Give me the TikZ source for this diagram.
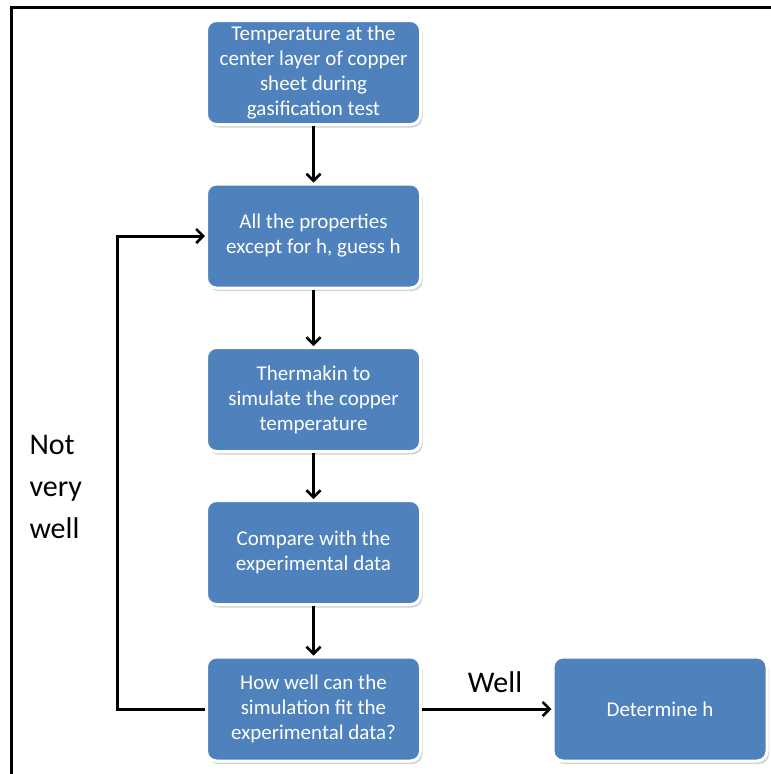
\documentclass[tikz,border=0pt]{standalone}
\usepackage{fontspec}
\setmainfont{Carlito}
\usetikzlibrary{shadows,arrows.meta}
\definecolor{boxblue}{RGB}{79,129,189}
\tikzset{
  flowbox/.style={draw=white, line width=3pt, fill=boxblue, rounded corners=10pt,
    minimum width=214pt, minimum height=104pt, align=center, text=white,
    font=\fontsize{21}{25}\selectfont,
    drop shadow={opacity=0.35, shadow xshift=2pt, shadow yshift=-3pt}},
  flowarrow/.style={-{Straight Barb[length=7pt,width=14pt,line width=2.5pt]}, line width=3pt},
  lbl/.style={font=\fontsize{30}{42}\selectfont, align=left}
}
\begin{document}
\begin{tikzpicture}[x=1pt,y=-1pt]
    \useasboundingbox (0,0) rectangle (771,774);
    \draw[line width=3pt] (11,774) -- (11,7) -- (771,7);

    \node[flowbox] (temp) at (313.5,72.5) {Temperature at the\\center layer of copper\\sheet during\\gasification test};
    \node[flowbox] (props) at (313.5,236) {All the properties\\except for h, guess h};
    \node[flowbox] (sim) at (313.5,399.5) {Thermakin to\\simulate the copper\\temperature};
    \node[flowbox] (comp) at (313.5,552.5) {Compare with the\\experimental data};
    \node[flowbox] (check) at (313.5,709) {How well can the\\simulation fit the\\experimental data?};
    \node[flowbox] (det) at (660,709) {Determine h};

    \draw[flowarrow] (temp) -- (props);
    \draw[flowarrow] (props) -- (sim);
    \draw[flowarrow] (sim) -- (comp);
    \draw[flowarrow] (comp) -- (check);

    \draw[flowarrow] (check) -- (det);
    \node[lbl] (well) at (495,682) {Well};

    \draw[flowarrow] (check.west) -- ++(-88,0) |- (props.west);
    \node[lbl, anchor=west] (notwell) at (26,487) {Not\\very\\well};
\end{tikzpicture}
\end{document}
